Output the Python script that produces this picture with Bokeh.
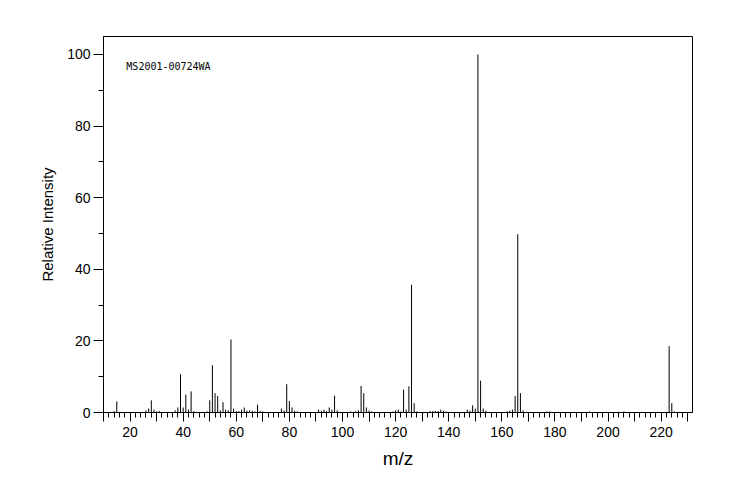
from bokeh.plotting import figure
from bokeh.models import Range1d, FixedTicker, Label, ColumnDataSource
from bokeh.embed import file_html
from bokeh.resources import INLINE

# ---- data ----
mz = [14, 15, 26, 27, 28, 29, 30, 31, 37, 38, 39, 40, 41, 42, 43, 44, 49, 50,
      51, 52, 53, 54, 55, 56, 57, 58, 59, 60, 61, 62, 63, 64, 65, 66, 67, 68,
      69, 70, 77, 78, 79, 80, 81, 82, 83, 91, 92, 93, 94, 95, 96, 97, 98, 103,
      105, 106, 107, 108, 109, 110, 111, 119, 120, 121, 122, 123, 124, 125,
      126, 127, 128, 133, 134, 135, 136, 137, 138, 139, 147, 148, 149, 150,
      151, 152, 153, 154, 162, 163, 164, 165, 166, 167, 168, 177, 178, 193,
      206, 223, 224, 225]
intensity = [0.4, 3.1, 0.6, 1.1, 3.4, 0.8, 0.3, 0.4, 0.6, 1.4, 10.7, 1.4, 5.0,
             0.8, 5.9, 0.4, 0.3, 3.4, 13.2, 5.4, 4.6, 0.6, 2.9, 0.8, 0.6, 20.4,
             1.1, 0.4, 0.4, 0.8, 1.4, 0.5, 0.6, 0.5, 0.3, 2.2, 0.4, 0.3, 1.1,
             0.6, 7.9, 3.2, 1.4, 0.5, 0.3, 0.8, 0.5, 0.8, 0.4, 1.4, 0.8, 4.7,
             0.6, 0.3, 0.3, 0.6, 7.4, 5.4, 1.4, 0.6, 0.3, 0.3, 0.6, 0.8, 0.3,
             6.4, 0.8, 7.3, 35.7, 2.6, 0.3, 0.4, 0.4, 0.4, 0.4, 0.8, 0.5, 0.3,
             0.8, 0.5, 2.0, 1.1, 100.0, 8.9, 1.1, 0.5, 0.3, 0.5, 0.8, 4.6, 49.8,
             5.4, 0.6, 0.3, 0.3, 0.3, 0.3, 18.5, 2.6, 0.3]
baseline = [0.0] * len(mz)

x_major = list(range(10, 231, 10))
x_minor = list(range(10, 232, 2))
x_labels = {t: (str(t) if t % 20 == 0 else "") for t in x_major}
y_major = [0, 20, 40, 60, 80, 100]
y_minor = [10, 30, 50, 70, 90]
sample_id = "MS2001-00724WA"

FONT = "Liberation Sans"

p = figure(width=728, height=484, output_backend="svg", toolbar_location=None,
           x_range=Range1d(10, 231.8), y_range=Range1d(0, 105),
           min_border_left=103, min_border_right=36, min_border_top=36,
           min_border_bottom=72)
p.background_fill_color = "white"
p.border_fill_color = "white"
p.outline_line_color = "black"
p.outline_line_width = 1
p.xgrid.visible = False
p.ygrid.visible = False

src = ColumnDataSource(dict(x=mz, y0=baseline, y1=intensity))
p.segment(x0="x", y0="y0", x1="x", y1="y1", source=src,
          line_color="black", line_width=1)

xa = p.xaxis[0]
xa.ticker = FixedTicker(ticks=x_major, minor_ticks=x_minor)
xa.major_label_overrides = x_labels
xa.axis_label = "m/z"
xa.axis_label_text_font = FONT
xa.axis_label_text_font_size = "19px"
xa.axis_label_text_font_style = "normal"
xa.axis_label_text_color = "black"
xa.axis_label_standoff = 8
xa.major_label_text_font = FONT
xa.major_label_text_font_size = "14px"
xa.major_label_text_color = "black"
xa.major_label_standoff = 5
xa.major_tick_out = 9
xa.major_tick_in = 0
xa.minor_tick_out = 5
xa.minor_tick_in = 0
xa.axis_line_color = "black"
xa.major_tick_line_color = "black"
xa.minor_tick_line_color = "black"

ya = p.yaxis[0]
ya.ticker = FixedTicker(ticks=y_major, minor_ticks=y_minor)
ya.axis_label = "Relative Intensity"
ya.axis_label_text_font = FONT
ya.axis_label_text_font_size = "15px"
ya.axis_label_text_font_style = "normal"
ya.axis_label_text_color = "black"
ya.axis_label_standoff = 8
ya.major_label_text_font = FONT
ya.major_label_text_font_size = "14px"
ya.major_label_text_color = "black"
ya.major_label_standoff = 3
ya.major_tick_out = 10
ya.major_tick_in = 0
ya.minor_tick_out = 5
ya.minor_tick_in = 0
ya.axis_line_color = "black"
ya.major_tick_line_color = "black"
ya.minor_tick_line_color = "black"

p.add_layout(Label(x=18.6, y=96.6, text=sample_id, text_font="DejaVu Sans Mono",
                   text_font_size="10px", text_baseline="middle",
                   text_align="left", text_color="black"))

open("out.html", "w").write(file_html(p, INLINE))
